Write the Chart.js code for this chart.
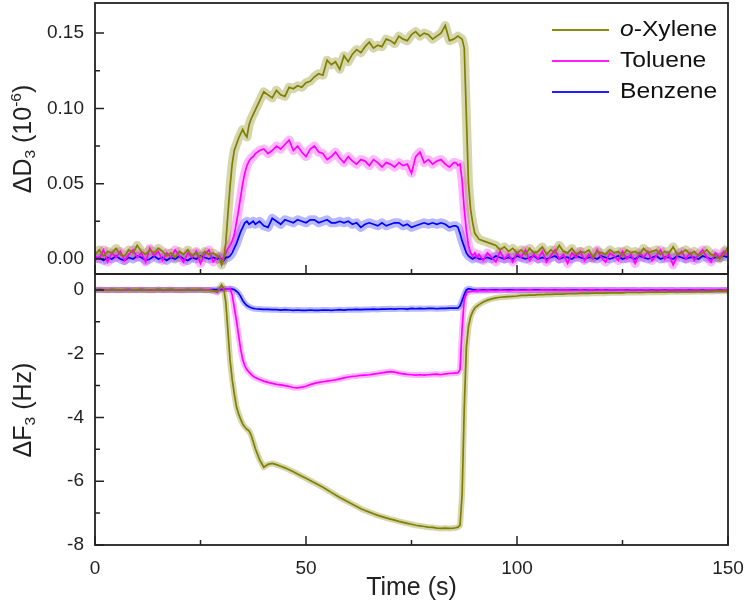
<!DOCTYPE html>
<html><head><meta charset="utf-8">
<script src="https://cdn.jsdelivr.net/npm/chart.js@4.4.1/dist/chart.umd.min.js"></script>
<style>
html,body{margin:0;padding:0;background:#fff;}
#wrap{position:relative;width:750px;height:603px;overflow:hidden;}
canvas{position:absolute;left:0;top:0;}
.yt{position:absolute;white-space:nowrap;font-family:'Liberation Sans',Arial,sans-serif;font-size:25px;color:#222;line-height:1;transform:translate(-50%,-50%) rotate(-90deg);}
.yt sub{font-size:0.62em;vertical-align:-0.3em;line-height:0}
.yt sup{font-size:0.62em;vertical-align:0.62em;line-height:0}
.lg{position:absolute;left:552px;height:22px;line-height:22px;font-family:'Liberation Sans',Arial,sans-serif;font-size:22px;color:#111;white-space:nowrap}
.lg .ln{display:inline-block;width:57px;height:2px;vertical-align:middle;margin-right:11px;}
.lg .tx{display:inline-block;transform:scaleX(1.12);transform-origin:left center;}
</style></head><body>
<div id="wrap">
<canvas id="c" width="750" height="603"></canvas>
<div class="yt" style="left:22px;top:139px">ΔD<sub>3</sub> (10<sup>-6</sup>)</div>
<div class="yt" style="left:22px;top:410px">ΔF<sub>3</sub> (Hz)</div>
<div class="lg" style="top:18px"><span class="ln" style="background:#8a8a10"></span><span class="tx"><i>o</i>-Xylene</span></div>
<div class="lg" style="top:49px"><span class="ln" style="background:#ff20ff"></span><span class="tx">Toluene</span></div>
<div class="lg" style="top:80px"><span class="ln" style="background:#2020ff"></span><span class="tx">Benzene</span></div>
</div>
<script>
// time (s)
const time = [
0,1,2,3,4,5,6,7,8,9,10,11,12,13,14,15,16,17,18,19,20,21,22,23,24,25,26,27,28,29,
29.5,30,30.5,31,31.5,32,32.5,33,33.5,34,34.5,35,35.5,36,36.5,37,37.5,38,
39,40,41,42,43,44,45,46,47,48,49,50,51,52,53,54,55,56,57,58,59,60,61,62,63,64,65,66,67,68,69,70,71,72,73,74,75,76,77,78,79,80,81,82,83,84,85,
85.5,86,86.5,87,87.5,88,88.5,89,89.5,90,90.5,91,
92,93,94,95,96,97,98,99,100,101,102,103,104,105,106,107,108,109,110,111,112,113,114,115,116,117,118,119,120,121,122,123,124,125,126,127,128,129,130,131,132,133,134,135,136,137,138,139,140,141,142,143,144,145,146,147,148,149,150];

// ΔD3 (10^-6)
const dXylene = [
0.003,0.006,0.002,0.005,0.004,0.007,0.003,0.002,0.006,0.004,
0.009,0.005,0.003,0.006,0.004,0.007,0.005,0.002,0.004,0.001,
0.005,0.003,0.006,0.002,0.004,0.001,0.005,0.003,0.004,0.002,
0.001,-0.004,0.000,0.011,0.030,0.048,0.063,0.072,0.076,0.080,0.083,0.086,0.083,0.081,0.089,0.093,0.096,0.099,
0.105,0.111,0.109,0.107,0.112,0.109,0.108,0.114,0.113,0.115,
0.114,0.117,0.118,0.121,0.123,0.122,0.132,0.129,0.131,0.126,
0.135,0.131,0.136,0.139,0.137,0.141,0.144,0.140,0.142,0.141,
0.146,0.145,0.143,0.148,0.146,0.145,0.149,0.151,0.148,0.150,
0.149,0.146,0.148,0.150,0.155,0.145,0.146,
0.147,0.148,0.147,0.146,0.140,0.095,0.050,0.033,0.024,0.017,0.015,0.013,
0.012,0.011,0.010,0.009,0.006,0.008,0.005,0.007,0.004,
0.006,0.003,0.007,0.004,0.005,0.008,0.003,0.006,0.004,0.009,
0.005,0.004,0.007,0.003,0.005,0.004,0.006,0.001,0.005,0.004,
0.003,0.006,0.004,0.005,0.002,0.006,0.004,0.005,0.003,0.007,
0.004,0.005,0.006,0.003,0.005,0.004,0.008,0.003,0.004,0.006,
0.003,0.005,0.002,0.004,0.006,0.003,0.002,0.000,0.003,0.008];

const dToluene = [
0.002,0.000,0.006,-0.002,0.004,0.001,0.005,-0.001,0.003,0.006,
0.001,0.004,-0.002,0.007,0.002,0.005,-0.001,0.004,0.001,0.006,
0.002,-0.002,0.004,0.001,0.005,-0.003,0.003,0.006,-0.002,0.001,
0.002,-0.001,0.001,0.004,0.007,0.009,0.012,0.016,0.024,0.032,0.041,0.050,0.057,0.062,0.065,0.067,0.068,0.070,
0.072,0.073,0.070,0.072,0.075,0.073,0.076,0.079,0.072,0.075,
0.071,0.068,0.073,0.075,0.071,0.070,0.066,0.068,0.071,0.067,
0.064,0.068,0.065,0.063,0.066,0.065,0.062,0.066,0.064,0.061,
0.064,0.063,0.061,0.064,0.062,0.063,0.057,0.068,0.071,0.064,
0.066,0.063,0.065,0.066,0.063,0.061,0.064,
0.064,0.062,0.063,0.052,0.033,0.019,0.009,0.004,0.002,0.004,0.001,0.003,
-0.001,0.004,0.001,-0.002,0.005,0.000,0.003,-0.002,0.004,
0.001,0.006,-0.001,0.003,0.000,0.005,-0.002,0.002,0.006,0.000,
0.003,-0.003,0.004,0.001,0.005,-0.001,0.003,0.000,0.006,0.001,
-0.002,0.004,0.002,-0.001,0.005,0.000,0.003,-0.003,0.004,0.001,
0.005,-0.001,0.002,0.006,0.000,0.003,-0.004,0.002,0.005,0.000,
0.004,-0.001,0.003,0.006,0.001,-0.002,0.004,0.001,0.005,0.002];

const dBenzene = [
0.000,0.001,-0.001,0.001,0.000,0.002,0.000,-0.001,0.001,0.000,
0.002,0.001,-0.001,0.000,0.002,0.000,0.001,-0.001,0.001,0.000,
0.002,0.000,-0.001,0.001,0.000,0.002,0.001,0.000,0.001,0.000,
0.001,0.000,-0.001,0.001,0.001,0.002,0.004,0.007,0.010,0.014,0.018,0.021,0.024,0.025,0.023,0.024,0.025,0.023,
0.025,0.022,0.021,0.027,0.025,0.023,0.026,0.025,0.024,0.026,
0.025,0.024,0.026,0.026,0.024,0.025,0.026,0.024,0.024,0.025,
0.024,0.025,0.023,0.024,0.021,0.023,0.024,0.023,0.022,0.024,
0.022,0.023,0.024,0.024,0.022,0.023,0.021,0.022,0.023,0.024,
0.023,0.024,0.023,0.024,0.023,0.021,0.022,
0.022,0.021,0.017,0.012,0.008,0.004,0.002,0.001,0.000,0.001,0.001,0.000,
0.000,0.001,0.000,0.002,0.001,0.000,0.001,0.000,0.002,
0.001,0.000,0.001,0.002,0.000,0.001,0.000,0.001,0.002,0.000,
0.001,0.001,0.000,0.002,0.001,0.000,0.001,0.001,0.000,0.002,
0.001,0.000,0.001,0.002,0.000,0.001,0.001,0.000,0.002,0.001,
0.000,0.001,0.002,0.000,0.001,0.001,0.000,0.002,0.001,0.000,
0.001,0.001,0.000,0.002,0.001,0.000,0.001,0.001,0.002,0.001];

// ΔF3 (Hz)
const fXylene = [
0.00,0.01,0.00,-0.01,0.00,0.01,0.00,0.00,-0.01,0.00,
0.01,0.00,0.00,-0.01,0.00,0.01,0.00,0.00,0.01,0.00,
-0.01,0.00,0.00,0.01,0.00,0.00,-0.01,-0.01,-0.03,-0.05,
0.05,0.16,0.05,-0.40,-1.30,-2.20,-2.80,-3.25,-3.65,-3.88,-4.05,-4.20,-4.30,-4.37,-4.42,-4.55,-4.76,-4.98,
-5.32,-5.56,-5.47,-5.44,-5.48,-5.53,-5.58,-5.64,-5.70,-5.77,
-5.84,-5.91,-5.98,-6.05,-6.12,-6.19,-6.27,-6.35,-6.43,-6.51,
-6.58,-6.65,-6.72,-6.79,-6.86,-6.92,-6.97,-7.02,-7.07,-7.11,
-7.15,-7.19,-7.22,-7.26,-7.29,-7.32,-7.35,-7.38,-7.40,-7.42,
-7.44,-7.45,-7.47,-7.48,-7.47,-7.48,-7.47,
-7.46,-7.44,-7.38,-6.40,-3.70,-1.80,-1.15,-0.85,-0.68,-0.57,-0.51,-0.46,
-0.38,-0.32,-0.28,-0.25,-0.23,-0.22,-0.21,-0.20,-0.19,
-0.17,-0.17,-0.16,-0.16,-0.15,-0.15,-0.14,-0.14,-0.13,-0.13,
-0.13,-0.12,-0.12,-0.12,-0.11,-0.11,-0.11,-0.10,-0.10,-0.10,
-0.10,-0.09,-0.09,-0.09,-0.09,-0.08,-0.08,-0.08,-0.08,-0.08,
-0.07,-0.07,-0.07,-0.07,-0.07,-0.06,-0.06,-0.06,-0.06,-0.06,
-0.06,-0.05,-0.05,-0.05,-0.05,-0.05,-0.04,-0.04,-0.04,-0.04];

const fToluene = [
0.00,0.00,0.01,0.00,0.00,-0.01,0.00,0.01,0.00,0.00,
0.00,0.01,0.00,0.00,-0.01,0.00,0.00,0.01,0.00,0.00,
0.00,-0.01,0.00,0.00,0.01,0.00,0.00,0.00,-0.02,-0.08,
0.02,0.05,0.04,0.03,0.03,0.04,-0.15,-0.55,-0.95,-1.40,-1.85,-2.18,-2.38,-2.50,-2.58,-2.65,-2.71,-2.75,
-2.81,-2.86,-2.90,-2.93,-2.96,-2.98,-3.00,-3.03,-3.06,-3.07,
-3.05,-3.02,-2.97,-2.93,-2.90,-2.88,-2.86,-2.84,-2.82,-2.79,
-2.76,-2.73,-2.71,-2.70,-2.68,-2.67,-2.66,-2.64,-2.62,-2.60,
-2.58,-2.56,-2.58,-2.61,-2.63,-2.65,-2.66,-2.67,-2.66,-2.67,
-2.66,-2.65,-2.64,-2.66,-2.63,-2.62,-2.61,
-2.61,-2.60,-2.50,-1.20,-0.30,-0.10,-0.06,-0.05,-0.04,-0.03,-0.03,-0.02,
-0.02,-0.02,-0.01,-0.02,-0.01,-0.01,-0.02,-0.01,-0.01,
-0.01,-0.01,0.00,-0.01,-0.01,0.00,-0.01,0.00,-0.01,0.00,
-0.01,0.00,-0.01,-0.01,0.00,-0.01,0.00,0.00,-0.01,0.00,
-0.01,0.00,0.00,-0.01,0.00,-0.01,0.00,0.00,-0.01,0.00,
0.00,-0.01,0.00,0.00,-0.01,0.00,0.00,-0.01,0.00,0.00,
-0.01,0.00,0.00,-0.01,0.00,0.00,0.00,-0.01,0.00,0.00];

const fBenzene = [
0.00,0.01,0.00,0.00,0.01,0.00,0.00,0.00,0.01,0.00,
0.00,0.01,0.00,0.00,0.00,0.01,0.00,0.00,0.01,0.00,
0.00,0.00,0.01,0.00,0.00,0.01,0.00,0.00,0.01,0.01,
0.01,0.01,0.02,0.03,0.03,0.04,0.03,0.01,-0.04,-0.10,-0.20,-0.33,-0.42,-0.49,-0.53,-0.56,-0.58,-0.59,
-0.60,-0.61,-0.61,-0.62,-0.62,-0.63,-0.62,-0.63,-0.64,-0.63,
-0.64,-0.64,-0.63,-0.64,-0.64,-0.63,-0.63,-0.64,-0.63,-0.62,
-0.63,-0.62,-0.62,-0.61,-0.62,-0.61,-0.61,-0.60,-0.61,-0.60,
-0.60,-0.59,-0.60,-0.59,-0.59,-0.60,-0.58,-0.59,-0.58,-0.59,
-0.58,-0.58,-0.59,-0.58,-0.58,-0.57,-0.57,
-0.57,-0.57,-0.50,-0.33,-0.15,0.00,0.04,0.03,0.01,0.00,-0.01,-0.01,
0.00,-0.01,0.00,0.00,-0.01,0.00,0.00,0.00,-0.01,
0.00,0.00,-0.01,0.00,0.00,0.00,-0.01,0.00,0.00,0.00,
-0.01,0.00,0.00,0.00,-0.01,0.00,0.00,0.00,0.00,-0.01,
0.00,0.00,0.00,-0.01,0.00,0.00,0.00,0.00,-0.01,0.00,
0.00,0.00,-0.01,0.00,0.00,0.00,0.00,-0.01,0.00,0.00,
0.00,-0.01,0.00,0.00,0.00,0.00,-0.01,0.00,0.00,0.00];

// tick labels
const xTickVals = [0, 50, 100, 150];
const dTickVals = [0, 0.05, 0.10, 0.15];
const fTickVals = [0, -2, -4, -6, -8];
const seriesNames = ['o-Xylene', 'Toluene', 'Benzene'];

[dXylene,dToluene,dBenzene,fXylene,fToluene,fBenzene].forEach((a,i)=>{
  if (a.length !== time.length) console.error('length mismatch', i, a.length, time.length);
});

const pts = arr => time.map((t,i)=>({x:t, y:arr[i]}));
const styles = [
  {line:'#7f7f00', band:'rgba(128,128,0,0.32)'},
  {line:'#ff00ff', band:'rgba(255,0,255,0.28)'},
  {line:'#0000ff', band:'rgba(0,0,255,0.28)'}
];
const dSets = [dXylene, dToluene, dBenzene];
const fSets = [fXylene, fToluene, fBenzene];
const datasets = [];
seriesNames.forEach((name,i)=>{
  const s = styles[i];
  datasets.push({label:name, data:pts(dSets[i]), yAxisID:'yD', borderColor:s.line, borderWidth:1.7, order:i});
  datasets.push({label:name, data:pts(fSets[i]), yAxisID:'yF', borderColor:s.line, borderWidth:1.7, order:i});
  datasets.push({label:name+' sd', data:pts(dSets[i]), yAxisID:'yD', borderColor:s.band, borderWidth:9, borderJoinStyle:'round', order:10+i});
  datasets.push({label:name+' sd', data:pts(fSets[i]), yAxisID:'yF', borderColor:s.band, borderWidth:6, borderJoinStyle:'round', order:10+i});
});

const FONT = "'Liberation Sans', Arial, sans-serif";
Chart.defaults.font.family = FONT;
Chart.defaults.color = '#222';

const framePlugin = {
  id:'frame',
  afterDraw(chart){
    const {ctx, chartArea:a, scales} = chart;
    const yD = scales.yD, yF = scales.yF, xs = scales.x;
    ctx.save();
    ctx.strokeStyle = '#222';
    ctx.lineWidth = 1.8;
    ctx.strokeRect(a.left, a.top, a.right - a.left, a.bottom - a.top);
    ctx.beginPath(); ctx.moveTo(a.left, yD.bottom); ctx.lineTo(a.right, yD.bottom); ctx.stroke();
    ctx.lineWidth = 1.5;
    ctx.beginPath();
    const seg = (x1,y1,x2,y2)=>{ctx.moveTo(x1,y1); ctx.lineTo(x2,y2);};
    const yTicks = (scale, vals) => {
      vals.forEach(v=>{const y = scale.getPixelForValue(v); seg(a.left, y, a.left+9, y);});
      for (let i=0;i<vals.length-1;i++){
        const y = scale.getPixelForValue((vals[i]+vals[i+1])/2); seg(a.left, y, a.left+5, y);
      }
    };
    yTicks(yD, dTickVals);
    yTicks(yF, fTickVals);
    [yD.bottom, a.bottom].forEach(yb=>{
      xTickVals.forEach(v=>{const x = xs.getPixelForValue(v); seg(x, yb, x, yb-9);});
      for (let i=0;i<xTickVals.length-1;i++){
        const x = xs.getPixelForValue((xTickVals[i]+xTickVals[i+1])/2); seg(x, yb, x, yb-5);
      }
    });
    ctx.stroke();
    ctx.restore();
  }
};

const yFit = s => { s.width = 95; s.paddingTop = 0; s.paddingBottom = 0; };

new Chart(document.getElementById('c'), {
  type:'line',
  data:{datasets},
  options:{
    responsive:false, animation:false, events:[],
    layout:{padding:{left:0, right:22, top:3, bottom:0}},
    plugins:{legend:{display:false}, tooltip:{enabled:false}},
    elements:{point:{radius:0}, line:{tension:0, fill:false}},
    scales:{
      x:{type:'linear', min:0, max:150,
        grid:{display:false, drawTicks:false}, border:{display:false},
        afterBuildTicks:s=>{s.ticks = xTickVals.map(v=>({value:v}));},
        ticks:{padding:12, font:{size:19}, color:'#222', maxRotation:0, autoSkip:false},
        title:{display:true, text:'Time (s)', font:{size:25}, color:'#222', padding:{top:0,bottom:0}},
        afterFit:s=>{s.height = 58; s.paddingLeft = 0; s.paddingRight = 0;}
      },
      yF:{type:'linear', position:'left', stack:'panels', stackWeight:1, min:-8, max:0.5,
        grid:{display:false, drawTicks:false}, border:{display:false},
        afterBuildTicks:s=>{s.ticks = fTickVals.map(v=>({value:v}));},
        ticks:{padding:11, font:{size:19}, color:'#222', autoSkip:false, callback:v=>String(v)},
        afterFit:yFit
      },
      yD:{type:'linear', position:'left', stack:'panels', stackWeight:1, min:-0.01, max:0.17,
        grid:{display:false, drawTicks:false}, border:{display:false},
        afterBuildTicks:s=>{s.ticks = dTickVals.map(v=>({value:v}));},
        ticks:{padding:11, font:{size:19}, color:'#222', autoSkip:false, callback:v=>Number(v).toFixed(2)},
        afterFit:yFit
      }
    }
  },
  plugins:[framePlugin]
});
</script>
</body></html>
